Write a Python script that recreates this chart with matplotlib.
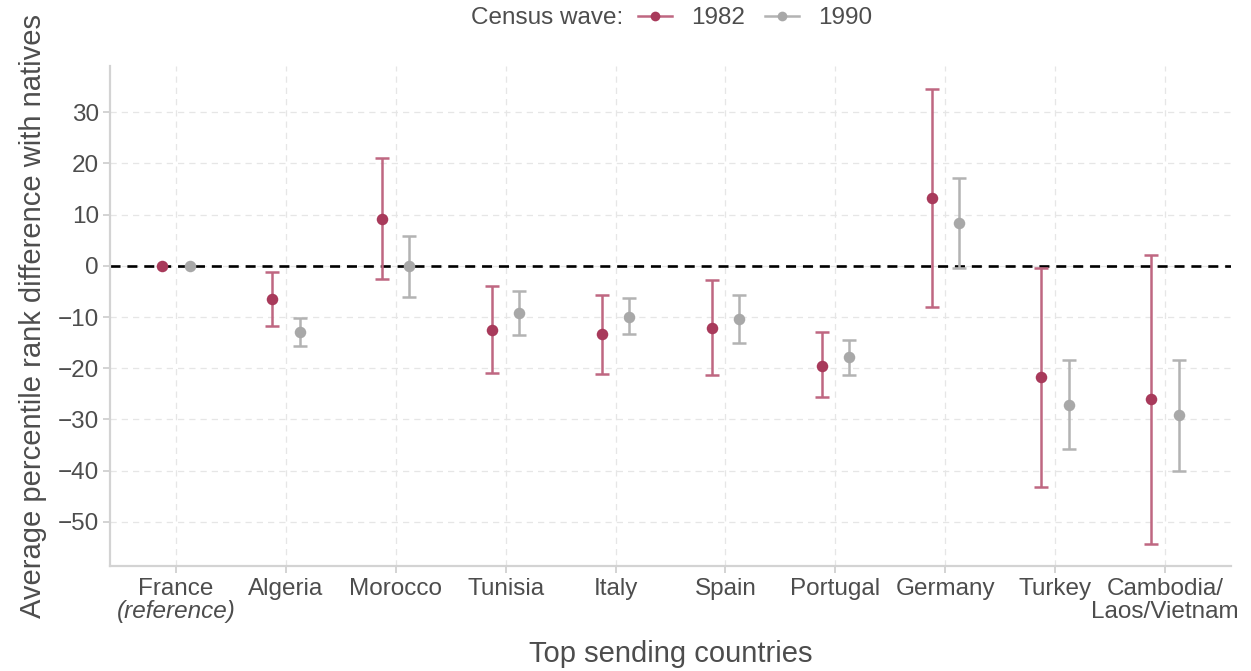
import numpy as np
import matplotlib
matplotlib.use("Agg")
import matplotlib.pyplot as plt
from matplotlib.lines import Line2D

plt.rcParams['font.family'] = ['Liberation Sans', 'DejaVu Sans']

countries = ['France', 'Algeria', 'Morocco', 'Tunisia', 'Italy', 'Spain',
             'Portugal', 'Germany', 'Turkey', 'Cambodia/Laos/Vietnam']
tick_labels = ['France', 'Algeria', 'Morocco', 'Tunisia',
               'Italy', 'Spain', 'Portugal', 'Germany', 'Turkey',
               'Cambodia/\nLaos/Vietnam']
reference_note = '(reference)'
nan = np.nan
est_1982 = [0.0, -6.5, 9.1, -12.5, -13.4, -12.05, -19.5, 13.2, -21.8, -26.0]
lo_1982 = [nan, -11.8, -2.6, -20.9, -21.1, -21.35, -25.7, -8.1, -43.1, -54.4]
hi_1982 = [nan, -1.2, 21.0, -3.9, -5.7, -2.7, -13.0, 34.6, -0.4, 2.1]
est_1990 = [0.0, -12.9, 0.0, -9.25, -9.9, -10.4, -17.9, 8.3, -27.1, -29.2]
lo_1990 = [nan, -15.7, -6.0, -13.5, -13.35, -15.1, -21.3, -0.4, -35.7, -40.0]
hi_1990 = [nan, -10.1, 5.9, -5.0, -6.3, -5.7, -14.5, 17.1, -18.4, -18.4]
waves = ['1982', '1990']

bar_cols = {'1982': '#bf6781', '1990': '#b3b3b3'}
pt_cols = {'1982': '#a83a5b', '1990': '#a8a8a8'}
text_col = '#4d4d4d'

fig = plt.figure(figsize=(12.51, 6.71), dpi=100)
ax = fig.add_axes([110/1251, 1-566/671, (1231-110)/1251, (566-66)/671])

x = np.arange(len(countries))
dodge = 0.125
series = {'1982': (est_1982, lo_1982, hi_1982), '1990': (est_1990, lo_1990, hi_1990)}
for i, w in enumerate(waves):
    est, lo, hi = (np.array(a, dtype=float) for a in series[w])
    xs = x + (-dodge if i == 0 else dodge)
    yerr = np.vstack([est - lo, hi - est])
    ax.errorbar(xs, est, yerr=yerr, fmt='none', ecolor=bar_cols[w], elinewidth=1.8,
                capsize=4.8, capthick=1.8, zorder=3)
    ax.plot(xs, est, 'o', color=pt_cols[w], markersize=8.3, zorder=4, markeredgewidth=0)

ax.axhline(0, color='black', lw=1.9, ls=(0, (3.8, 2.6)), zorder=2)

ax.set_xlim(-0.6, 9.6)
ax.set_ylim(-58.6, 39)
ax.set_yticks(np.arange(-50, 31, 10))
ax.set_xticks(x)
ax.set_xticklabels(tick_labels)

ax.grid(True, color='#e6e6e6', lw=0.9, ls=(0, (5, 4)), zorder=0)
ax.set_axisbelow(True)
for s in ['top', 'right']:
    ax.spines[s].set_visible(False)
for s in ['left', 'bottom']:
    ax.spines[s].set_color('#d3d3d3')
    ax.spines[s].set_linewidth(1.6)
ax.tick_params(axis='both', colors='#cccccc', length=5, width=1.2,
               labelcolor=text_col, labelsize=17.5)
ax.tick_params(axis='y', pad=3)
ax.tick_params(axis='x', pad=3.5)
for lab in ax.get_xticklabels():
    lab.set_linespacing(1.08)

ax.set_xlabel('Top sending countries', fontsize=21, color=text_col, labelpad=12)
ax.set_ylabel('Average percentile rank difference with natives', fontsize=21,
              color=text_col, labelpad=8)

# italic second line under "France"
fig.canvas.draw()
renderer = fig.canvas.get_renderer()
last_lab = ax.get_xticklabels()[-1]
bb = last_lab.get_window_extent(renderer)
fx = ax.transData.transform((x[0], 0))[0]
fig.text(fx / fig.bbox.width, bb.y0 / fig.bbox.height, reference_note,
         ha='center', va='bottom', fontsize=17.5, style='italic', color=text_col)

handles = [Line2D([], [], color=bar_cols[w], lw=1.8, marker='o', markersize=7,
                  markerfacecolor=pt_cols[w], markeredgewidth=0) for w in waves]
fig.text(623/1251, 1-18/671, 'Census wave:', ha='right', va='center',
         fontsize=17.5, color=text_col)
fig.legend(handles, waves, loc='center left', bbox_to_anchor=(638/1251, 1-18/671),
           ncol=2, frameon=False, fontsize=17.5, handlelength=1.4,
           handletextpad=0.8, columnspacing=0.8, borderpad=0, borderaxespad=0,
           labelcolor=text_col)

fig.savefig('out.png', dpi=100)
